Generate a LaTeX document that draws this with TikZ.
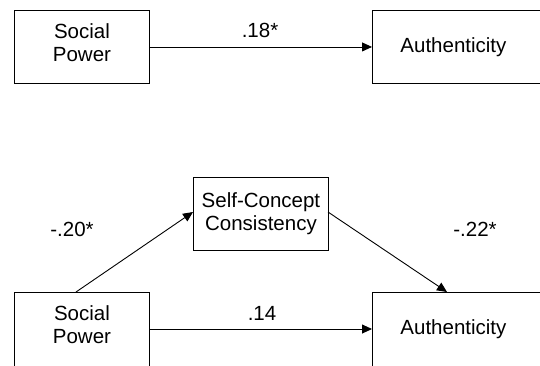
\documentclass[tikz,border=0pt]{standalone}
\usepackage{fontspec}
\setmainfont{Liberation Sans}
\usetikzlibrary{arrows.meta}
\begin{document}
\begin{tikzpicture}[x=1pt,y=-1pt,
  box/.style={draw, line width=0.9pt, minimum height=73pt, inner sep=0pt, align=center, font=\fontsize{20.5}{23}\selectfont},
  twoline/.style={text depth=9pt},
  lbl/.style={font=\fontsize{20.5}{23}\selectfont, inner sep=0pt},
  arr/.style={line width=0.9pt, -{Triangle[length=10pt,width=9pt]}}]
\useasboundingbox (0,0) rectangle (540,365);
\clip (0,0) rectangle (540,365);
% top model
\node[box, twoline, minimum width=135pt, anchor=north west] (sp1) at (14,10) {Social\\Power};
\node[box, minimum width=176pt, anchor=north west] (au1) at (372,10) {\hspace*{-14pt}Authenticity};
\draw[arr] (sp1.east) -- (au1.west);
\node[lbl] (c1) at (260,30) {.18*};
% bottom model
\node[box, minimum width=135pt, anchor=north west] (sc) at (193,177) {Self-Concept\\Consistency};
\node[box, twoline, minimum width=135pt, minimum height=74pt, anchor=north west] (sp2) at (14,292) {Social\\Power};
\node[box, minimum width=176pt, minimum height=74pt, anchor=north west] (au2) at (372,292) {\hspace*{-14pt}Authenticity};
\coordinate (s2top) at (76,292);
\coordinate (a2top) at (447,292);
\coordinate (sc2l) at (193,212);
\coordinate (sc2r) at (328,212);
\draw[arr] (s2top) -- (sc2l);
\draw[arr] (sc2r) -- (a2top);
\draw[arr] (sp2.east |- 0,329) -- (au2.west |- 0,329);
\node[lbl] (c2) at (72,229) {-.20*};
\node[lbl] (c3) at (475,229) {-.22*};
\node[lbl] (c4) at (262,313) {.14};
\end{tikzpicture}
\end{document}
